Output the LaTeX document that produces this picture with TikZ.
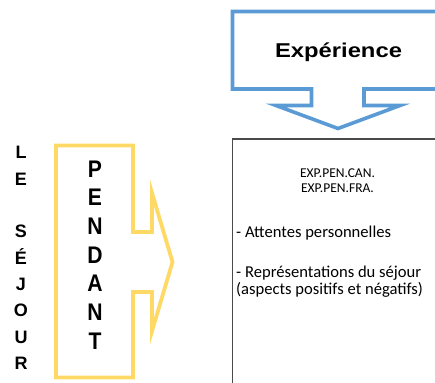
\documentclass[tikz,border=0pt]{standalone}
\usepackage{fontspec}
\setmainfont{Carlito}
\newfontfamily\arialf{Liberation Sans}
\definecolor{myblue}{HTML}{5B9BD5}
\definecolor{myyellow}{HTML}{FFD966}
\definecolor{boxgray}{HTML}{4A4A4A}
\tikzset{
  bluearrow/.style={draw=myblue, line width=3.6pt, line join=miter},
  yellowarrow/.style={draw=myyellow, line width=3.8pt, line join=miter},
  framebox/.style={draw=boxgray, line width=1.1pt},
  vletter/.style={font=\arialf\bfseries\fontsize{18}{18}\selectfont, anchor=base, inner sep=0pt},
  pletter/.style={font=\arialf\bfseries\fontsize{24}{24}\selectfont, anchor=base, inner sep=0pt, xscale=0.88},
  title/.style={font=\arialf\bfseries\fontsize{20}{20}\selectfont, anchor=base, inner sep=0pt, xscale=1.19},
  small/.style={font=\fontsize{13.5}{13.5}\selectfont, anchor=base, inner sep=0pt},
  body/.style={font=\fontsize{16.6}{17}\selectfont, anchor=base west, inner sep=0pt},
}
\begin{document}
\begin{tikzpicture}[x=1pt,y=-1pt]
\useasboundingbox (0,0) rectangle (435,382);
% blue callout
\draw[bluearrow] (450,11.5) -- (232.5,11.5) -- (232.5,89) -- (311.5,89) -- (311.5,105.5)
  -- (276,105.5) -- (338,128.5) -- (400,105.5) -- (364,105.5) -- (364,89) -- (450,89);
\node[title] (exp) at (338.5,57.5) {Expérience};
% content box
\draw[framebox] (450,139) -- (232.5,139) -- (232.5,400);
\node[small] (c1) at (337.5,177.3) {EXP.PEN.CAN.};
\node[small] (c2) at (337.5,192.3) {EXP.PEN.FRA.};
\node[body] (att) at (236,237.3) {- Attentes personnelles};
\node[body] (rep) at (236,277.3) {- Représentations du séjour};
\node[body] (asp) at (236,294.3) {(aspects positifs et négatifs)};
% yellow arrow
\draw[yellowarrow] (56,145.5) -- (133,145.5) -- (133,232) -- (152,232) -- (152,193)
  -- (172.5,262) -- (152,331) -- (152,292) -- (133,292) -- (133,377.5) -- (56,377.5) -- cycle;
% LE SEJOUR
\foreach \t [count=\i from 0] in {L,E,{},S,É,J,O,U,R}{
  \node[vletter] (ls\i) at (21,{152.5+26.3*\i+6.45}) {\t};
}
% PENDANT
\foreach \t [count=\i from 0] in {P,E,N,D,A,N,T}{
  \node[pletter] (pd\i) at (95,{168.5+28.67*\i+8.6}) {\t};
}
\end{tikzpicture}
\end{document}
